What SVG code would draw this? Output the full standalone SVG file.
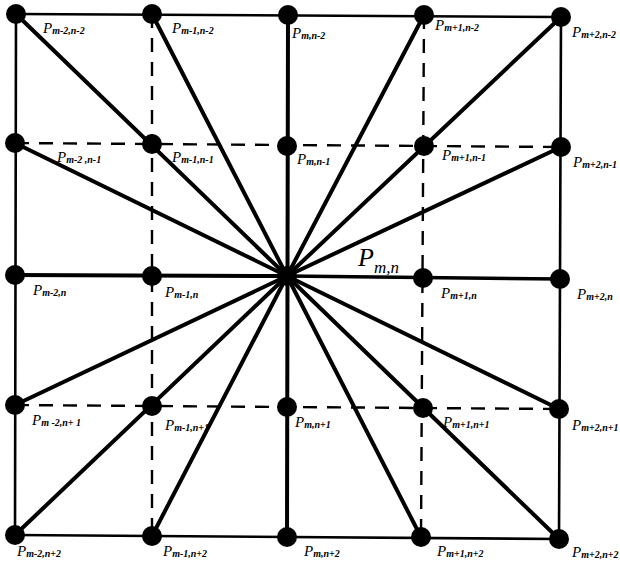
<svg xmlns="http://www.w3.org/2000/svg" width="620" height="562" viewBox="0 0 620 562">
<style>
.bg{fill:#fff}
.b{stroke:#000;stroke-width:2.6;fill:none;stroke-linecap:round}
.s{stroke:#000;stroke-width:4;fill:none;stroke-linecap:round}
.d{stroke:#000;stroke-width:2.4;fill:none;stroke-dasharray:14 10}
.n{fill:#000}
.l{font-family:"Liberation Serif","Times New Roman",serif;font-style:italic;font-size:15px;fill:#000}
.sub{font-size:10px;font-weight:bold}
.big{font-family:"Liberation Serif","Times New Roman",serif;font-style:italic;font-size:26px;fill:#000}
.bsub{font-size:17px}
</style>
<rect class="bg" x="0" y="0" width="620" height="562"/>
<g id="connectors">
<path class="d" d="M15,143 L561,147"/>
<path class="d" d="M15,405 L559,409"/>
<path class="d" d="M152,14 L152,536"/>
<path class="d" d="M424,15 L421,537"/>
<path class="b" d="M16,14 L561,17"/>
<path class="b" d="M15,535 L559,539"/>
<path class="b" d="M16,14 L15,535"/>
<path class="b" d="M561,17 L559,539"/>
<path class="s" d="M15,275 L287,276"/>
<path class="b" d="M287,276 L560,279" style="stroke-width:3.6"/>
<path class="s" d="M288,15 L287,537"/>
<path class="s" d="M287,276 L16,14"/>
<path class="s" d="M287,276 L152,14"/>
<path class="s" d="M287,276 L424,15"/>
<path class="s" d="M287,276 L561,17"/>
<path class="s" d="M287,276 L15,143"/>
<path class="s" d="M287,276 L561,147"/>
<path class="s" d="M287,276 L15,405"/>
<path class="s" d="M287,276 L559,409"/>
<path class="s" d="M287,276 L15,535"/>
<path class="s" d="M287,276 L152,536"/>
<path class="s" d="M287,276 L421,537"/>
<path class="s" d="M287,276 L559,539"/>
</g>
<g id="p_m-2_n-2"><circle class="n" cx="16" cy="14" r="10"/><text class="l" x="43" y="33">P<tspan class="sub" dy="1">m-2,n-2</tspan></text></g>
<g id="p_m-1_n-2"><circle class="n" cx="152" cy="14" r="10"/><text class="l" x="172" y="33">P<tspan class="sub" dy="1">m-1,n-2</tspan></text></g>
<g id="p_m_n-2"><circle class="n" cx="288" cy="15" r="10"/><text class="l" x="292" y="38">P<tspan class="sub" dy="1">m,n-2</tspan></text></g>
<g id="p_m+1_n-2"><circle class="n" cx="424" cy="15" r="10"/><text class="l" x="435" y="30">P<tspan class="sub" dy="1">m+1,n-2</tspan></text></g>
<g id="p_m+2_n-2"><circle class="n" cx="561" cy="17" r="10"/><text class="l" x="572" y="37">P<tspan class="sub" dy="1">m+2,n-2</tspan></text></g>
<g id="p_m-2_n-1"><circle class="n" cx="15" cy="143" r="10"/><text class="l" x="57" y="162">P<tspan class="sub" dy="1">m-2 ,n-1</tspan></text></g>
<g id="p_m-1_n-1"><circle class="n" cx="152" cy="144" r="10"/><text class="l" x="172" y="162">P<tspan class="sub" dy="1">m-1,n-1</tspan></text></g>
<g id="p_m_n-1"><circle class="n" cx="287" cy="146" r="10"/><text class="l" x="297" y="164">P<tspan class="sub" dy="1">m,n-1</tspan></text></g>
<g id="p_m+1_n-1"><circle class="n" cx="424" cy="146" r="10"/><text class="l" x="442" y="160">P<tspan class="sub" dy="1">m+1,n-1</tspan></text></g>
<g id="p_m+2_n-1"><circle class="n" cx="561" cy="147" r="10"/><text class="l" x="573" y="167">P<tspan class="sub" dy="1">m+2,n-1</tspan></text></g>
<g id="p_m-2_n"><circle class="n" cx="15" cy="275" r="10"/><text class="l" x="33" y="295">P<tspan class="sub" dy="1">m-2,n</tspan></text></g>
<g id="p_m-1_n"><circle class="n" cx="152" cy="276" r="10"/><text class="l" x="165" y="297">P<tspan class="sub" dy="1">m-1,n</tspan></text></g>
<g id="p_m_n"><circle class="n" cx="287" cy="276" r="10"/><text class="big" x="358" y="266">P<tspan class="bsub" dy="7">m,n</tspan></text></g>
<g id="p_m+1_n"><circle class="n" cx="423" cy="278" r="10"/><text class="l" x="441" y="298">P<tspan class="sub" dy="1">m+1,n</tspan></text></g>
<g id="p_m+2_n"><circle class="n" cx="560" cy="279" r="10"/><text class="l" x="577" y="299">P<tspan class="sub" dy="1">m+2,n</tspan></text></g>
<g id="p_m-2_n+1"><circle class="n" cx="15" cy="405" r="10"/><text class="l" x="32" y="425">P<tspan class="sub" dy="1">m -2,n+ 1</tspan></text></g>
<g id="p_m-1_n+1"><circle class="n" cx="152" cy="406" r="10"/><text class="l" x="165" y="430">P<tspan class="sub" dy="1">m-1,n+1</tspan></text></g>
<g id="p_m_n+1"><circle class="n" cx="287" cy="407" r="10"/><text class="l" x="295" y="427">P<tspan class="sub" dy="1">m,n+1</tspan></text></g>
<g id="p_m+1_n+1"><circle class="n" cx="423" cy="408" r="10"/><text class="l" x="443" y="427">P<tspan class="sub" dy="1">m+1,n+1</tspan></text></g>
<g id="p_m+2_n+1"><circle class="n" cx="559" cy="409" r="10"/><text class="l" x="572" y="430">P<tspan class="sub" dy="1">m+2,n+1</tspan></text></g>
<g id="p_m-2_n+2"><circle class="n" cx="15" cy="535" r="10"/><text class="l" x="17" y="556">P<tspan class="sub" dy="1">m-2,n+2</tspan></text></g>
<g id="p_m-1_n+2"><circle class="n" cx="152" cy="536" r="10"/><text class="l" x="163" y="556">P<tspan class="sub" dy="1">m-1,n+2</tspan></text></g>
<g id="p_m_n+2"><circle class="n" cx="287" cy="537" r="10"/><text class="l" x="304" y="556">P<tspan class="sub" dy="1">m,n+2</tspan></text></g>
<g id="p_m+1_n+2"><circle class="n" cx="421" cy="537" r="10"/><text class="l" x="437" y="556">P<tspan class="sub" dy="1">m+1,n+2</tspan></text></g>
<g id="p_m+2_n+2"><circle class="n" cx="559" cy="539" r="10"/><text class="l" x="572" y="557">P<tspan class="sub" dy="1">m+2,n+2</tspan></text></g>
</svg>
